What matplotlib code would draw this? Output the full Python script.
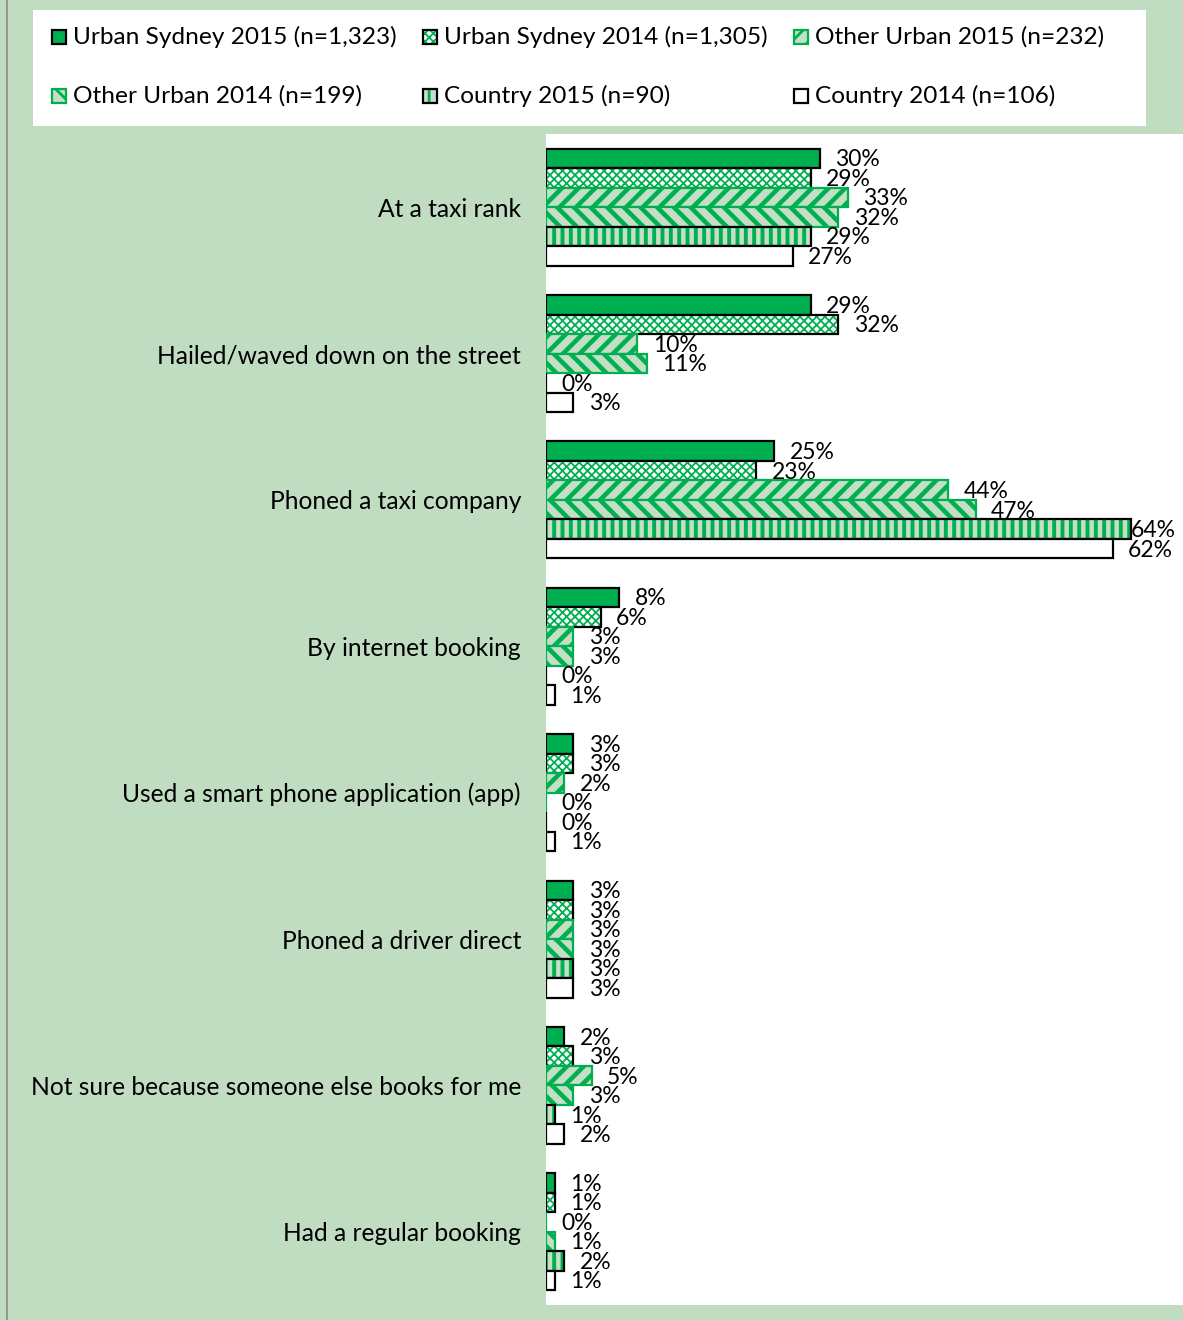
import matplotlib
matplotlib.use("Agg")
import matplotlib.pyplot as plt
from matplotlib.patches import Rectangle
import numpy as np

plt.rcParams["font.family"] = ["Lato", "DejaVu Sans"]

categories = [
    "At a taxi rank",
    "Hailed/waved down on the street",
    "Phoned a taxi company",
    "By internet booking",
    "Used a smart phone application (app)",
    "Phoned a driver direct",
    "Not sure because someone else books for me",
    "Had a regular booking",
]
series = [
    "Urban Sydney 2015 (n=1,323)",
    "Urban Sydney 2014 (n=1,305)",
    "Other Urban 2015 (n=232)",
    "Other Urban 2014 (n=199)",
    "Country 2015 (n=90)",
    "Country 2014 (n=106)",
]
urban_sydney_2015 = [30, 29, 25, 8, 3, 3, 2, 1]
urban_sydney_2014 = [29, 32, 23, 6, 3, 3, 3, 1]
other_urban_2015 = [33, 10, 44, 3, 2, 3, 5, 0]
other_urban_2014 = [32, 11, 47, 3, 0, 3, 3, 1]
country_2015 = [29, 0, 64, 0, 0, 3, 1, 2]
country_2014 = [27, 3, 62, 1, 1, 3, 2, 1]
values = [urban_sydney_2015, urban_sydney_2014, other_urban_2015,
          other_urban_2014, country_2015, country_2014]

GREEN = "#00B050"
PALE = "#C4DFC6"
BG = "#C0DDC2"

# face, hatch, hatch colour, hatch width, outline
styles = [
    (GREEN, None, GREEN, 1.0, "black"),
    ("white", "xxxx", GREEN, 1.3, "black"),
    (PALE, "//", GREEN, 3.3, GREEN),
    (PALE, "\\\\", GREEN, 3.3, GREEN),
    (PALE, "||", GREEN, 2.8, "black"),
    ("white", None, GREEN, 1.0, "black"),
]


def hatch_width(patch, lw):
    if hasattr(patch, "set_hatch_linewidth"):
        patch.set_hatch_linewidth(lw)


W, H = 1183, 1320
fig = plt.figure(figsize=(W / 100, H / 100), dpi=100)
fig.patch.set_facecolor(BG)

# thin grey border on the left
fig.add_artist(plt.Line2D([7 / W, 7 / W], [0, 1], color="#8c8c8c", lw=1.2,
                          transform=fig.transFigure))

ax = fig.add_axes([546 / W, 15 / H, 1 - 546 / W, (1305 - 134) / H])
ax.set_facecolor("white")
for s in ax.spines.values():
    s.set_visible(False)

group = 7.5
centers = np.arange(len(categories)) * group + group / 2
for j, (vals, (fc, hatch, hc, hlw, ec)) in enumerate(zip(values, styles)):
    y = centers + (j - 2.5)
    plt.rcParams["hatch.linewidth"] = hlw
    if hatch:
        bars = ax.barh(y, vals, height=1.0, color=fc, hatch=hatch, edgecolor=hc, linewidth=0)
        for p in bars:
            hatch_width(p, hlw)
        ax.barh(y, vals, height=1.0, color="none", edgecolor=ec, linewidth=1.6)
    else:
        ax.barh(y, vals, height=1.0, color=fc, edgecolor=ec, linewidth=1.6)
    for yy, v in zip(y, vals):
        if v > 60 and j == 4:
            # no room past the bar end, pin it to the right edge
            ax.annotate(f"{v}%", (69.7, yy), xytext=(-5, -1), textcoords="offset points",
                        ha="right", va="center", fontsize=16.5)
        else:
            ax.annotate(f"{v}%", (v, yy), xytext=(11, -1), textcoords="offset points",
                        ha="left", va="center", fontsize=16.5)

ax.set_xlim(0, 69.7)
ax.set_ylim(len(categories) * group, 0)
ax.set_xticks([])
ax.set_yticks(centers)
ax.set_yticklabels(categories, fontsize=17.7)
ax.tick_params(axis="y", length=0, pad=18)

# legend panel
leg = fig.add_axes([33 / W, 1 - 126 / H, (1146 - 33) / W, 116 / H])
leg.set_facecolor("white")
leg.set_xlim(33, 1146)
leg.set_ylim(126, 10)
leg.set_xticks([])
leg.set_yticks([])
for s in leg.spines.values():
    s.set_visible(False)
for i, (name, (fc, hatch, hc, hlw, ec)) in enumerate(zip(series, styles)):
    x0 = 52 + 371 * (i % 3)
    yc = 37 + 59 * (i // 3)
    plt.rcParams["hatch.linewidth"] = min(hlw, 2.0)
    key = leg.add_patch(Rectangle((x0, yc - 7), 14, 14, facecolor=fc, hatch=hatch,
                                  edgecolor=hc, linewidth=0))
    hatch_width(key, min(hlw, 2.0))
    leg.add_patch(Rectangle((x0, yc - 7), 14, 14, facecolor="none",
                            edgecolor=ec, linewidth=1.6))
    leg.text(x0 + 21, yc, name, ha="left", va="center", fontsize=17.6)

fig.savefig("out.png", dpi=100, facecolor=BG)
